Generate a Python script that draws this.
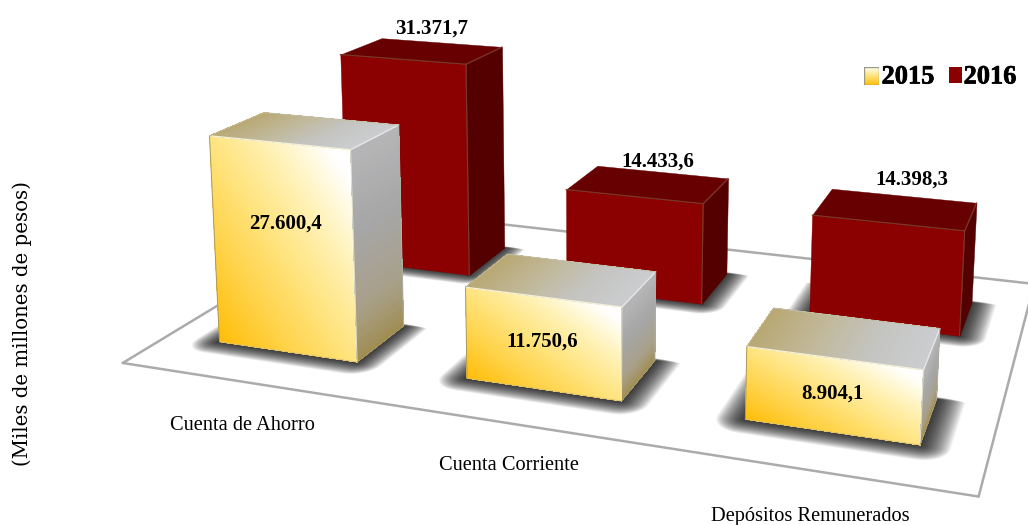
import numpy as np, pandas as pd, matplotlib
matplotlib.use("Agg")
import matplotlib.pyplot as plt, seaborn as sns
import matplotlib.patheffects as pe
from mpl_toolkits.mplot3d import Axes3D
from mpl_toolkits.mplot3d.art3d import Poly3DCollection

# ---- data ----
categories = ["Cuenta de Ahorro", "Cuenta Corriente", "Depósitos Remunerados"]
years = ["2015", "2016"]
values_2015 = [27600.4, 11750.6, 8904.1]
values_2016 = [31371.7, 14433.6, 14398.3]
labels_2015 = ["27.600,4", "11.750,6", "8.904,1"]
labels_2016 = ["31.371,7", "14.433,6", "14.398,3"]
y_title = "(Miles de millones de pesos)"

df = pd.DataFrame({"categoria": categories * 2,
                   "anio": [years[0]] * 3 + [years[1]] * 3,
                   "valor": values_2015 + values_2016})

W, H = 1028, 525
sns.set_theme(style="white", rc={"axes.facecolor": "none"})
plt.rcParams["font.family"] = ["Liberation Serif", "DejaVu Serif"]

front_cm = sns.blend_palette(["#FFBE0A", "#FFD144", "#FFE27A", "#FFF1B4", "#FFFFFF"], 256, as_cmap=True)
side_cm = sns.blend_palette(["#A08C50", "#A8A08A", "#A6A6A6", "#B6B6B8"], 256, as_cmap=True)
top_cm = sns.blend_palette(["#B8A874", "#C0B898", "#C4C4C0", "#CBCDD0"], 256, as_cmap=True)
red_front = "#8B0000"
red_side = "#550000"
red_top = "#670000"

fig = plt.figure(figsize=(W / 100, H / 100), dpi=100, facecolor="white")
ax = fig.add_axes([0, (H - W) / (2 * H), 1, W / H], projection="3d", computed_zorder=False)
ax.set_axis_off()
ax.patch.set_visible(False)
ax.apply_aspect()

# camera calibrated on the picture: world (category, series, thousands) -> pixels
camera = np.array([[218.75966541525042, 177.86582089015957, -0.5538091193777112, 312.7612760467113],
                   [15.335757083077093, -41.8968349063686, -7.492774035346959, 333.7549920283334],
                   [-0.05466992099729211, 0.15057253487940236, -0.0009376438567155605, 1.0]])
inv = ax.transData.inverted()
o, ex, ey = inv.transform([[0, H], [1, H], [0, H - 1]])
A = np.array([[ex[0] - o[0], ey[0] - o[0], o[0]],
              [ex[1] - o[1], ey[1] - o[1], o[1]],
              [0, 0, 1]])
P2 = A @ camera
M = np.vstack([P2[0], P2[1], [0, 1e-3, 0, -0.01], P2[2]])
ax.get_proj = lambda: M

BAR_W, BAR_D = 0.57, 0.38


def face(p0, du, dv, cmap, tfun, z, n=48):
    u, v = np.meshgrid(np.linspace(0, 1, n), np.linspace(0, 1, n))
    p0, du, dv = map(np.asarray, (p0, du, dv))
    X = p0[0] + u * du[0] + v * dv[0]
    Y = p0[1] + u * du[1] + v * dv[1]
    Z = p0[2] + u * du[2] + v * dv[2]
    ax.plot_surface(X, Y, Z, facecolors=cmap(np.clip(tfun(u, v), 0, 1)), rstride=1, cstride=1,
                    shade=False, antialiased=False, linewidth=0, zorder=z)


def solid(p0, du, dv, color, z):
    p0, du, dv = map(np.asarray, (p0, du, dv))
    ax.add_collection3d(Poly3DCollection([[tuple(p0), tuple(p0 + du), tuple(p0 + du + dv), tuple(p0 + dv)]],
                                         facecolor=color, edgecolor=color, linewidth=0.3, zorder=z))


def edge(a, b, color, z, lw=0.9):
    ax.plot([a[0], b[0]], [a[1], b[1]], [a[2], b[2]], color=color, lw=lw, zorder=z, solid_capstyle="round")


def bar(i, j, h, z):
    x0, x1 = i - BAR_W / 2, i + BAR_W / 2
    y0, y1 = j - BAR_D / 2, j + BAR_D / 2
    dx, dy = x1 - x0, y1 - y0
    if j == 0:
        face((x0, y0, 0), (dx, 0, 0), (0, 0, h), front_cm, lambda u, v: (u + v) / 2 * 1.08, z)
        face((x1, y0, 0), (0, dy, 0), (0, 0, h), side_cm, lambda u, v: v ** 0.8, z + .1)
        face((x0, y0, h), (dx, 0, 0), (0, dy, 0), top_cm, lambda u, v: u, z + .2)
        edge((x0, y0, h), (x1, y0, h), "#F4EFD8", z + .3, 1.0)
        edge((x1, y0, h), (x1, y1, h), "#E6E6E6", z + .3, 1.0)
        edge((x1, y0, 0), (x1, y0, h), "#E8E4D0", z + .3, .7)
        edge((x0, y0, 0), (x0, y0, h), "#A89A60", z + .3, .7)
        edge((x0, y0, 0), (x1, y0, 0), "#D9C070", z + .3, .6)
        edge((x1, y0, 0), (x1, y1, 0), "#A89A60", z + .3, .6)
        edge((x0, y1, h), (x1, y1, h), "#C4BEA6", z + .3, .7)
        edge((x0, y0, h), (x0, y1, h), "#C4B88A", z + .3, .7)
        edge((x1, y1, 0), (x1, y1, h), "#AFAFA8", z + .3, .7)
    else:
        solid((x0, y0, 0), (dx, 0, 0), (0, 0, h), red_front, z)
        solid((x1, y0, 0), (0, dy, 0), (0, 0, h), red_side, z + .1)
        solid((x0, y0, h), (dx, 0, 0), (0, dy, 0), red_top, z + .2)
        for a, b in [((x0, y0, h), (x1, y0, h)), ((x1, y0, h), (x1, y1, h)), ((x1, y0, 0), (x1, y0, h))]:
            edge(a, b, "#7A3A28", z + .3, .8)


def shadow(i, j, z):
    x0, x1 = i - BAR_W / 2, i + BAR_W / 2
    y0, y1 = j - BAR_D / 2, j + BAR_D / 2
    th = np.linspace(0, np.pi / 2, 10)
    for k in np.linspace(1, 0.02, 26):
        ml, mr, mf, mb = 0.095 * k, 0.095 * k, 0.11 * k, 0.02 * k
        xy = []
        xy += [(x1 + mr * np.sin(t_), y0 - mf * np.cos(t_)) for t_ in th]
        xy += [(x1 + mr * np.cos(t_), y1 + mb * np.sin(t_)) for t_ in th]
        xy += [(x0 - ml * np.sin(t_), y1 + mb * np.cos(t_)) for t_ in th]
        xy += [(x0 - ml * np.cos(t_), y0 - mf * np.sin(t_)) for t_ in th]
        poly = [[(a, b, 0) for a, b in xy]]
        ax.add_collection3d(Poly3DCollection(poly, facecolor=(0, 0, 0, 0.05), edgecolor="none", zorder=z))


# floor
fx = [-0.5, 2.5, 2.5, -0.5]
fy = [-0.485, -0.485, 1.5, 1.5]
ax.add_collection3d(Poly3DCollection([list(zip(fx, fy, [0] * 4))], facecolor="white", edgecolor="none", zorder=0))
for n in range(4):
    m = (n + 1) % 4
    edge((fx[n], fy[n], 0), (fx[m], fy[m], 0), "#ABABAB", 0.5, 1.8)

for j in range(2):
    for i in range(3):
        shadow(i, j, 1)

z = 2
for j, yr in [(1, years[1]), (0, years[0])]:
    sub = df[df.anio == yr]
    for i, h in enumerate(sub.valor / 1000):
        bar(i, j, h, z)
        z += 1


def t(x, y, s, **kw):
    return fig.text(x / W, 1 - y / H, s, ha="center", va="center", color="black", **kw)


for (x, y), s in zip([(286, 224), (542, 342), (832, 394)], labels_2015):
    t(x, y, s, fontsize=15, fontweight="bold")
for (x, y), s in zip([(432, 29), (658, 162), (912, 180)], labels_2016):
    t(x, y, s, fontsize=15, fontweight="bold")
for (x, y), s in zip([(242, 425), (509, 466), (810, 516)], categories):
    t(x, y, s, fontsize=14.7)
t(22, 324, y_title, fontsize=14.2, rotation=90, family="DejaVu Serif")

# legend
for x, s in [(908, years[0]), (990, years[1])]:
    tx = t(x, 77, s, fontsize=19, fontweight="bold")
    tx.set_path_effects([pe.withStroke(linewidth=0.5, foreground="black")])
sw = fig.add_axes([864 / W, 1 - 85 / H, 15 / W, 18 / H])
g = np.linspace(1, 0, 32)[:, None]
sw.imshow(front_cm(g), aspect="auto", extent=(0, 1, 0, 1))
sw.axis("off")
sw.add_patch(plt.Rectangle((0, 0), 1, 1, fill=False, ec="#9A9A80", lw=1))
sr = fig.add_axes([949 / W, 1 - 83 / H, 13 / W, 16 / H])
sr.set_facecolor("#8B0000")
sr.set_xticks([]); sr.set_yticks([])
for s in sr.spines.values():
    s.set_visible(False)

fig.savefig("out.png", dpi=100)
